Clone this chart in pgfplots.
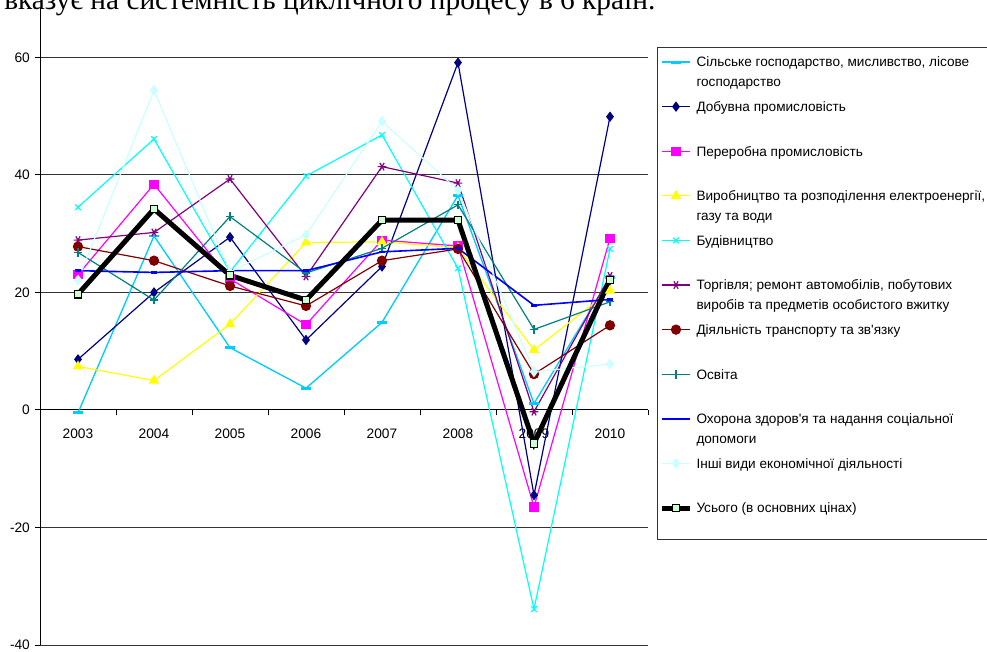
\documentclass[border=0pt]{standalone}
\usepackage{pgfplots}
\usepackage{pgfplotstable}
\pgfplotsset{compat=1.18}
\usepackage{fontspec}
\setmainfont{Liberation Sans}
\newfontfamily\lsans{Liberation Sans}
\newfontfamily\lserif{Liberation Serif}
\definecolor{cSky}{HTML}{00CCFF}
\definecolor{cNavy}{HTML}{000080}
\definecolor{cMag}{HTML}{FF00FF}
\definecolor{cYel}{HTML}{FFFF00}
\definecolor{cCyan}{HTML}{00FFFF}
\definecolor{cPurp}{HTML}{800080}
\definecolor{cMaroon}{HTML}{800000}
\definecolor{cTeal}{HTML}{008080}
\definecolor{cBlue}{HTML}{0000FF}
\definecolor{cTurq}{HTML}{CCFFFF}
\definecolor{cGreen}{HTML}{CCFFCC}
\newcommand{\lt}[1]{\parbox[t]{250pt}{#1}}
\pgfplotstableread{
x  s1    s2    s3    s4    s5    s6    s7    s8    s9    s10   s11
0  -0.5  8.6   23.0  7.4   34.5  28.9  27.8  26.8  23.7  22.1  19.7
1  29.6  20.0  38.4  5.0   46.1  30.2  25.4  18.7  23.4  54.4  34.2
2  10.6  29.4  22.3  14.6  23.5  39.3  21.1  32.9  23.7  23.5  22.9
3  3.7   11.9  14.5  28.5  39.8  22.7  17.7  23.3  23.7  29.8  18.7
4  14.9  24.4  28.9  28.6  46.8  41.4  25.4  27.5  26.9  49.1  32.3
5  36.5  59.1  27.9  27.6  24.1  38.6  27.4  34.9  27.5  37.4  32.3
6  1.1   -14.5 -16.5 10.2  -33.9 -0.3  6.1   13.7  17.8  6.5   -5.7
7  22.5  49.9  29.2  20.3  27.4  22.8  14.4  18.4  18.8  7.8   22.1
}\datatable
\begin{document}
\lsans\fontsize{10.2pt}{15pt}\selectfont
\begin{tikzpicture}
\begin{axis}[
  at={(30pt,5.25pt)}, anchor=south west,
  scale only axis, width=456pt, height=477.75pt,
  xmin=-0.5, xmax=7.5, ymin=-40, ymax=68.4,
  axis y line*=left, axis x line*=middle,
  hide obscured x ticks=false, hide obscured y ticks=false,
  axis line style={black, line width=0.75pt},
  tick style={black, line width=0.75pt},
  major tick length=4pt, tick align=outside,
  xtick={-0.5,0.5,...,7.5}, xticklabels={,,,,,,,,,},
  extra x ticks={0,1,2,3,4,5,6,7},
  extra x tick labels={2003,2004,2005,2006,2007,2008,2009,2010},
  extra x tick style={major tick length=0pt, xticklabel style={yshift=-11pt}},
  ytick={-40,-20,0,20,40,60},
  yticklabels={-40,-20,0,20,40,60},
  ymajorgrids, major grid style={black!80, line width=0.75pt},
  ticklabel style={font=\lsans\fontsize{10.3pt}{12pt}\selectfont},
  legend style={at={(1.0148,0.93925)}, anchor=north west, draw=black!80, line width=0.75pt, fill=white,
    cells={anchor=base west}, row sep={33.45pt,between origins},
    inner xsep=1.5pt, inner ysep=4.35pt,
    nodes={inner xsep=3pt, inner ysep=0pt, text height=10.5pt, text depth=15.5pt},
    font=\lsans\fontsize{10.2pt}{15pt}\selectfont},
  legend image code/.code={\draw[yshift=3.7pt,mark repeat=2,mark phase=2,#1] plot coordinates {(0pt,0pt) (10.5pt,0pt) (21pt,0pt)};},
]
\addplot[cSky, line width=1pt, mark=-, mark size=3.4pt, mark options={line width=2.2pt}] table[x=x,y=s1]{\datatable};
\addlegendentry{\lt{Сільське господарство, мисливство, лісове\\господарство}}
\addplot[cNavy, line width=0.9pt, mark=diamond*, mark size=3.2pt, mark options={solid}] table[x=x,y=s2]{\datatable};
\addlegendentry{\lt{Добувна промисловість}}
\addplot[cMag, line width=0.9pt, mark=square*, mark size=3pt, mark options={solid}] table[x=x,y=s3]{\datatable};
\addlegendentry{\lt{Переробна промисловість}}
\addplot[cYel, line width=0.9pt, mark=triangle*, mark size=3.6pt, mark options={solid}] table[x=x,y=s4]{\datatable};
\addlegendentry{\lt{Виробництво та розподілення електроенергії,\\газу та води}}
\addplot[cCyan, line width=0.9pt, mark=x, mark size=3pt, mark options={solid, line width=0.9pt}] table[x=x,y=s5]{\datatable};
\addlegendentry{\lt{Будівництво}}
\addplot[cPurp, line width=0.9pt, mark=asterisk, mark size=3.2pt, mark options={solid, rotate=90, line width=0.9pt}] table[x=x,y=s6]{\datatable};
\addlegendentry{\lt{Торгівля; ремонт автомобілів, побутових\\виробів та предметів особистого вжитку}}
\addplot[cMaroon, line width=0.9pt, mark=*, mark size=3.4pt, mark options={solid}] table[x=x,y=s7]{\datatable};
\addlegendentry{\lt{Діяльність транспорту та зв'язку}}
\addplot[cTeal, line width=0.9pt, mark=+, mark size=3.2pt, mark options={solid, line width=0.9pt}] table[x=x,y=s8]{\datatable};
\addlegendentry{\lt{Освіта}}
\addplot[cBlue, line width=1.2pt, mark=-, mark size=2.2pt, mark options={line width=2pt}] table[x=x,y=s9]{\datatable};
\addlegendentry{\lt{Охорона здоров'я та надання  соціальної\\допомоги}}
\addplot[cTurq, line width=0.9pt, mark=diamond*, mark size=3.4pt, mark options={solid}] table[x=x,y=s10]{\datatable};
\addlegendentry{\lt{Інші види економічної діяльності}}
\addplot[black, line width=3.75pt, mark=square*, mark size=2.8pt, mark options={solid, fill=cGreen, draw=black, line width=0.9pt}] table[x=x,y=s11]{\datatable};
\addlegendentry{\lt{Усього (в основних цінах)}}
\end{axis}
\node[anchor=base west, inner sep=0pt, font=\lserif\fontsize{22pt}{26pt}\selectfont] at (3pt,481.5pt) {вказує на системність циклічного процесу в 6 країн.};
\pgfresetboundingbox
\path[use as bounding box] (0pt,0pt) rectangle (740.25pt,489pt);
\end{tikzpicture}
\end{document}
